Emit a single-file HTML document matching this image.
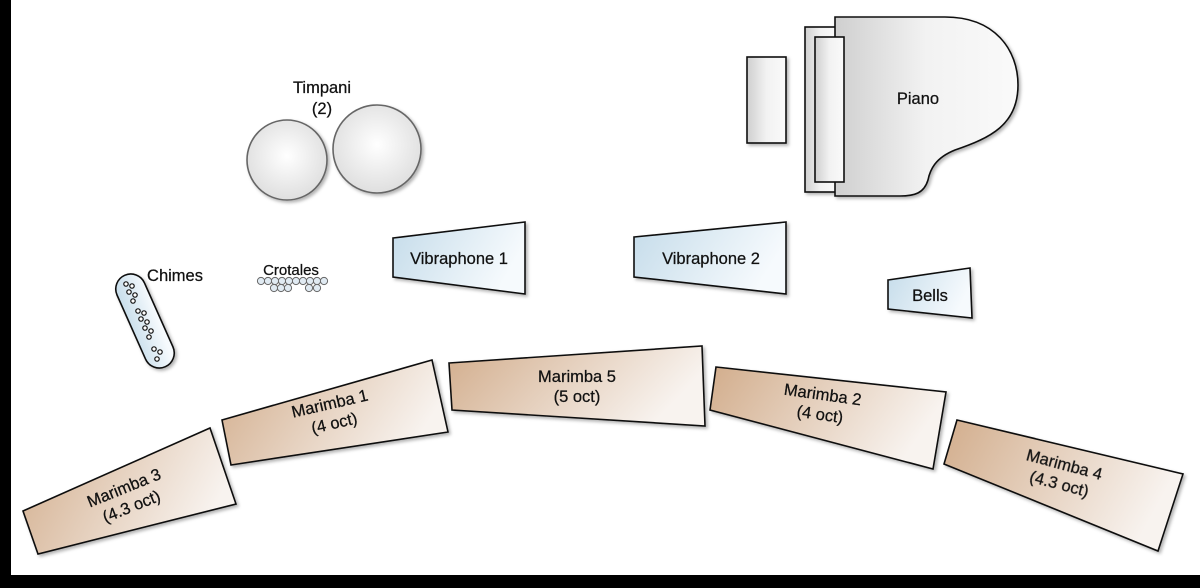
<!DOCTYPE html>
<html><head><meta charset="utf-8"><style>
html,body{margin:0;padding:0;background:#fff;}
svg{display:block;}
text{font-family:"Liberation Sans","DejaVu Sans",sans-serif;font-size:16.5px;fill:#111;text-anchor:middle;stroke:#111;stroke-width:0.25;}
</style></head><body>
<svg width="1200" height="588" viewBox="0 0 1200 588" xmlns="http://www.w3.org/2000/svg">
<defs>
<linearGradient id="br" x1="0" y1="0" x2="1" y2="0.3"><stop offset="0" stop-color="#d2ad8c"/><stop offset="1" stop-color="#f8f3ef"/></linearGradient>
<linearGradient id="bl" x1="0" y1="0" x2="1" y2="0.3"><stop offset="0" stop-color="#c5dcea"/><stop offset="1" stop-color="#f6fafd"/></linearGradient>
<linearGradient id="gr" x1="0" y1="0" x2="1" y2="0"><stop offset="0" stop-color="#cfcfcf"/><stop offset="0.5" stop-color="#f2f2f2"/><stop offset="1" stop-color="#fafafa"/></linearGradient>
<radialGradient id="tp" cx="0.5" cy="0.45" r="0.6"><stop offset="0" stop-color="#ffffff"/><stop offset="1" stop-color="#dcdcdc"/></radialGradient>
<filter id="sh" x="-10%" y="-10%" width="130%" height="130%"><feDropShadow dx="2" dy="2" stdDeviation="1.5" flood-color="#000" flood-opacity="0.3"/></filter>
</defs>
<rect x="0" y="0" width="11" height="588" fill="#000"/>
<rect x="0" y="575" width="1200" height="13" fill="#000"/>
<g stroke="#111" stroke-width="1.6" filter="url(#sh)">
<rect x="747" y="57" width="39" height="86" fill="url(#gr)"/>
<rect x="805" y="27" width="31" height="165" fill="url(#gr)"/>
<path d="M835,17 L945,17 C995,17 1018,50 1018,85 C1018,125 990,138 955,150 C935,158 930,170 928,180 C924,193 915,196 900,196 L835,196 Z" fill="url(#gr)"/>
<rect x="815" y="37" width="29" height="145" fill="url(#gr)"/>
<circle cx="287" cy="160" r="40" fill="url(#tp)" stroke="#666"/>
<circle cx="377" cy="149" r="44" fill="url(#tp)" stroke="#666"/>
<g transform="translate(145,321) rotate(-24)"><rect x="-15" y="-50" width="30" height="100" rx="15" fill="url(#bl)"/></g>
<polygon points="393,238 525,222 525,294 393,277" fill="url(#bl)"/>
<polygon points="634,237 786,222 786,294 634,277" fill="url(#bl)"/>
<polygon points="888,280 970,268 972,318 888,309" fill="url(#bl)"/>
<polygon points="23,511 210,428 236,504 38,554" fill="url(#br)"/>
<polygon points="222,420 432,360 448,432 231,465" fill="url(#br)"/>
<polygon points="449,363 702,346 705,426 452,410" fill="url(#br)"/>
<polygon points="716,367 946,392 933,469 710,410" fill="url(#br)"/>
<polygon points="957,420 1183,474 1158,551 944,464" fill="url(#br)"/>
</g>
<g fill="#fff" stroke="#111" stroke-width="1.2">
<circle cx="126" cy="284" r="2.2"/><circle cx="132" cy="286" r="2.2"/><circle cx="129" cy="292" r="2.2"/><circle cx="135" cy="295" r="2.2"/><circle cx="133" cy="301" r="2.2"/>
<circle cx="138" cy="311" r="2.2"/><circle cx="144" cy="313" r="2.2"/><circle cx="141" cy="319" r="2.2"/><circle cx="147" cy="322" r="2.2"/><circle cx="145" cy="328" r="2.2"/>
<circle cx="151" cy="331" r="2.2"/><circle cx="149" cy="337" r="2.2"/><circle cx="154" cy="349" r="2.2"/><circle cx="160" cy="352" r="2.2"/><circle cx="157" cy="359" r="2.2"/>
</g>
<g fill="#e0eaf2" stroke="#666" stroke-width="1">
<circle cx="261" cy="281" r="3.6"/><circle cx="268" cy="281" r="3.6"/><circle cx="275" cy="281" r="3.6"/><circle cx="282" cy="281" r="3.6"/><circle cx="289" cy="281" r="3.6"/><circle cx="296" cy="281" r="3.6"/><circle cx="303" cy="281" r="3.6"/><circle cx="310" cy="281" r="3.6"/><circle cx="317" cy="281" r="3.6"/><circle cx="324" cy="281" r="3.6"/>
<circle cx="274" cy="288" r="3.6"/><circle cx="281" cy="288" r="3.6"/><circle cx="288" cy="288" r="3.6"/><circle cx="309" cy="288" r="3.6"/><circle cx="317" cy="288" r="3.6"/>
</g>
<text x="322" y="93">Timpani</text>
<text x="322" y="114">(2)</text>
<text x="175" y="281">Chimes</text>
<text x="291" y="275" style="font-size:15px">Crotales</text>
<text x="918" y="104">Piano</text>
<text x="459" y="264">Vibraphone 1</text>
<text x="711" y="264">Vibraphone 2</text>
<text x="930" y="301">Bells</text>
<g transform="translate(126,493) rotate(-22)"><text x="0" y="0">Marimba 3</text><text x="0" y="20">(4.3 oct)</text></g>
<g transform="translate(331,409) rotate(-13)"><text x="0" y="0">Marimba 1</text><text x="0" y="20">(4 oct)</text></g>
<g transform="translate(577,382)"><text x="0" y="0">Marimba 5</text><text x="0" y="20">(5 oct)</text></g>
<g transform="translate(822,400) rotate(8)"><text x="0" y="0">Marimba 2</text><text x="0" y="20">(4 oct)</text></g>
<g transform="translate(1063,470) rotate(15)"><text x="0" y="0">Marimba 4</text><text x="0" y="20">(4.3 oct)</text></g>
</svg>
</body></html>
